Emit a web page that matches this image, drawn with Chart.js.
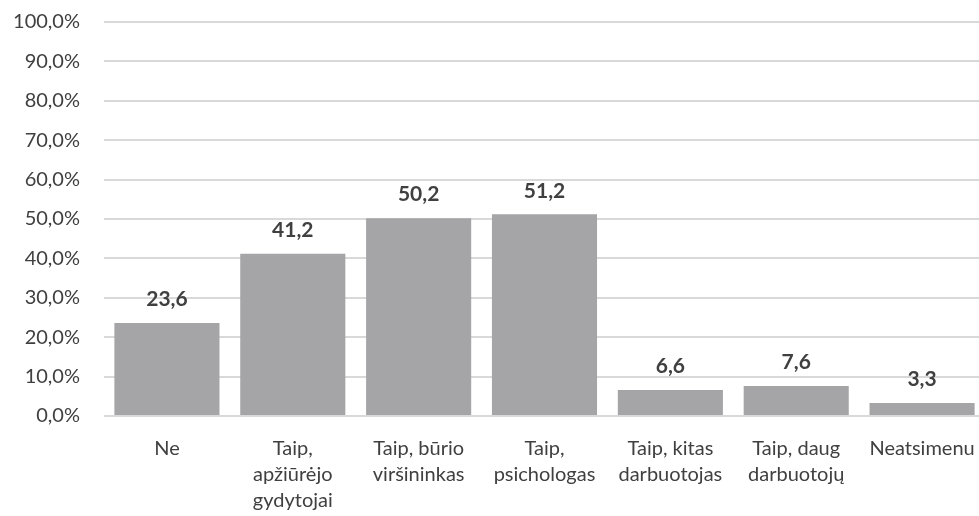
<!DOCTYPE html>
<html>
<head>
<meta charset="utf-8">
<script src="https://cdn.jsdelivr.net/npm/chart.js@4"></script>
<style>
  html, body { margin: 0; padding: 0; background: #fff; overflow: hidden; }
  #wrap { width: 985px; height: 516px; position: relative; }
</style>
</head>
<body>
<div id="wrap"><canvas id="barChart"></canvas></div>
<script>
const categories = [
  'Ne',
  ['Taip,', 'apžiūrėjo', 'gydytojai'],
  ['Taip, būrio', 'viršininkas'],
  ['Taip,', 'psichologas'],
  ['Taip, kitas', 'darbuotojas'],
  ['Taip, daug', 'darbuotojų'],
  'Neatsimenu'
];
const percentages = [23.6, 41.2, 50.2, 51.2, 6.6, 7.6, 3.3];
const tickValues = [0, 10, 20, 30, 40, 50, 60, 70, 80, 90, 100];

const fontFamily = "Lato, 'Open Sans', sans-serif";

function comma(v) {
  return v.toFixed(1).replace('.', ',');
}

// draws the bold value above each bar
const valueLabels = {
  id: 'valueLabels',
  afterDatasetsDraw(chart) {
    const ctx = chart.ctx;
    const meta = chart.getDatasetMeta(0);
    ctx.save();
    ctx.font = "bold 21px " + fontFamily;
    ctx.fillStyle = '#404040';
    ctx.textAlign = 'center';
    ctx.textBaseline = 'bottom';
    meta.data.forEach(function(bar, i) {
      ctx.fillText(comma(percentages[i]), bar.x, bar.y - 13);
    });
    ctx.restore();
  }
};

const barCtx = document.getElementById('barChart').getContext('2d');
new Chart(barCtx, {
  type: 'bar',
  data: {
    labels: categories,
    datasets: [{
      data: percentages,
      backgroundColor: '#a5a5a7',
      categoryPercentage: 1,
      barPercentage: 0.835
    }]
  },
  options: {
    responsive: true,
    maintainAspectRatio: false,
    animation: false,
    layout: { padding: 0 },
    plugins: {
      legend: { display: false },
      tooltip: { enabled: false }
    },
    scales: {
      x: {
        grid: { display: false },
        border: { display: false },
        ticks: {
          color: '#404040',
          font: { family: fontFamily, size: 20, lineHeight: 1.3 },
          padding: 12,
          maxRotation: 0,
          autoSkip: false
        },
        afterFit(scale) {
          scale.height = 100;
          scale.paddingRight = 0;
        }
      },
      y: {
        min: 0,
        max: 100,
        afterBuildTicks(scale) {
          scale.ticks = tickValues.map(v => ({ value: v }));
        },
        grid: { color: '#d9d9d9', lineWidth: 2, drawTicks: false },
        border: { display: false },
        ticks: {
          color: '#404040',
          font: { family: fontFamily, size: 20 },
          padding: 24,
          callback: v => comma(v) + '%'
        },
        afterFit(scale) {
          scale.width = 104;
          scale.paddingTop = 22;
        }
      }
    }
  },
  plugins: [valueLabels]
});
</script>
</body>
</html>
